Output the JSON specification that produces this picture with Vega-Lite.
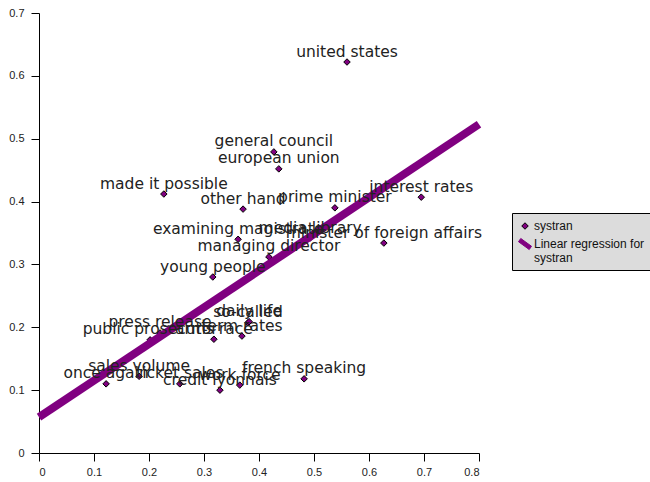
{
  "$schema": "https://vega.github.io/schema/vega-lite/v6.json",
  "width": 440,
  "height": 440,
  "autosize": "none",
  "padding": {"left": 39, "top": 13, "right": 171, "bottom": 29},
  "background": "white",
  "config": {
    "view": {"stroke": null},
    "axis": {
      "grid": false,
      "title": null,
      "labelFont": "Liberation Sans",
      "labelFontSize": 11,
      "labelColor": "#222",
      "domainColor": "#000",
      "domainWidth": 1,
      "tickColor": "#000",
      "tickSize": 8,
      "labelPadding": 5
    }
  },
  "datasets": {
    "terms": [
      {"term": "united states", "x": 0.560, "y": 0.622, "series": "systran"},
      {"term": "general council", "x": 0.427, "y": 0.479, "series": "systran"},
      {"term": "european union", "x": 0.436, "y": 0.452, "series": "systran"},
      {"term": "made it possible", "x": 0.227, "y": 0.412, "series": "systran"},
      {"term": "other hand", "x": 0.371, "y": 0.388, "series": "systran"},
      {"term": "prime minister", "x": 0.538, "y": 0.390, "series": "systran"},
      {"term": "interest rates", "x": 0.695, "y": 0.407, "series": "systran"},
      {"term": "examining magistrate", "x": 0.362, "y": 0.340, "series": "systran"},
      {"term": "media library", "x": 0.493, "y": 0.342, "series": "systran"},
      {"term": "minister of foreign affairs", "x": 0.627, "y": 0.334, "series": "systran"},
      {"term": "managing director", "x": 0.418, "y": 0.312, "series": "systran"},
      {"term": "young people", "x": 0.316, "y": 0.280, "series": "systran"},
      {"term": "so-called", "x": 0.380, "y": 0.207, "series": "systran"},
      {"term": "daily life", "x": 0.382, "y": 0.209, "series": "systran"},
      {"term": "press release", "x": 0.220, "y": 0.191, "series": "systran"},
      {"term": "term rates", "x": 0.369, "y": 0.186, "series": "systran"},
      {"term": "arms race", "x": 0.318, "y": 0.181, "series": "systran"},
      {"term": "public prosecutor", "x": 0.202, "y": 0.180, "series": "systran"},
      {"term": "sales volume", "x": 0.182, "y": 0.122, "series": "systran"},
      {"term": "once again", "x": 0.122, "y": 0.110, "series": "systran"},
      {"term": "ticket sales", "x": 0.256, "y": 0.110, "series": "systran"},
      {"term": "work force", "x": 0.365, "y": 0.108, "series": "systran"},
      {"term": "credit lyonnais", "x": 0.329, "y": 0.100, "series": "systran"},
      {"term": "french speaking", "x": 0.482, "y": 0.118, "series": "systran"}
    ],
    "fit": [
      {"x": 0.0, "y": 0.057},
      {"x": 0.8, "y": 0.523}
    ]
  },
  "layer": [
    {
      "data": {"name": "terms"},
      "mark": {"type": "point", "filled": true, "opacity": 1, "strokeWidth": 1, "size": 169},
      "encoding": {
        "x": {
          "field": "x", "type": "quantitative",
          "scale": {"domain": [0, 0.8], "nice": false, "zero": false},
          "axis": {"values": [0, 0.1, 0.2, 0.3, 0.4, 0.5, 0.6, 0.7, 0.8], "format": "~g"}
        },
        "y": {
          "field": "y", "type": "quantitative",
          "scale": {"domain": [0, 0.7], "nice": false, "zero": false},
          "axis": {"values": [0, 0.1, 0.2, 0.3, 0.4, 0.5, 0.6, 0.7], "format": "~g", "labelPadding": 7}
        },
        "color": {
          "field": "series", "type": "nominal", "title": null,
          "scale": {"domain": ["systran", "Linear regression for systran"], "range": ["#800080", "#800080"]},
          "legend": {
            "orient": "none",
            "legendX": 473,
            "legendY": 200,
            "direction": "vertical",
            "fillColor": "#dcdcdc",
            "strokeColor": "#000",
            "padding": 6,
            "symbolSize": 169,
            "symbolStrokeWidth": 1,
            "labelFont": "Liberation Sans",
            "labelFontSize": 12,
            "labelColor": "#111",
            "labelLimit": 200,
            "labelOffset": 2,
            "rowPadding": 4,
            "labelExpr": "datum.label == 'Linear regression for systran' ? ['Linear regression for', 'systran'] : datum.label"
          }
        },
        "shape": {
          "field": "series", "type": "nominal", "title": null,
          "scale": {
            "domain": ["systran", "Linear regression for systran"],
            "range": ["M-0.5,0L0,-0.5L0.5,0L0,0.5Z", "M-1,-0.35L-0.65,-0.85L1,0.35L0.65,0.85Z"]
          }
        },
        "stroke": {
          "field": "series", "type": "nominal", "title": null,
          "scale": {"domain": ["systran", "Linear regression for systran"], "range": ["#000000", "#800080"]}
        }
      }
    },
    {
      "data": {"name": "fit"},
      "mark": {"type": "line", "color": "#800080", "strokeWidth": 8, "strokeCap": "butt"},
      "encoding": {
        "x": {"field": "x", "type": "quantitative"},
        "y": {"field": "y", "type": "quantitative"}
      }
    },
    {
      "data": {"name": "terms"},
      "mark": {"type": "text", "font": "DejaVu Sans", "fontSize": 15.5, "color": "#222", "baseline": "middle", "align": "center", "dy": -10.5},
      "encoding": {
        "x": {"field": "x", "type": "quantitative"},
        "y": {"field": "y", "type": "quantitative"},
        "text": {"field": "term", "type": "nominal"}
      }
    }
  ]
}
